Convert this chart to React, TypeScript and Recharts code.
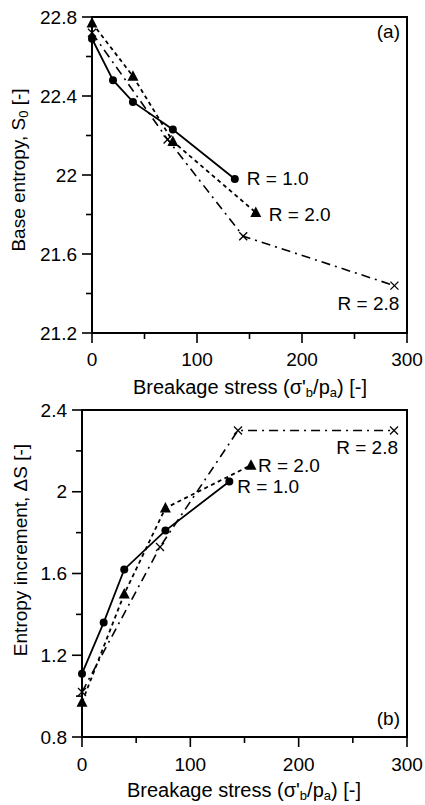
import React from 'react';
import { LineChart, Line, XAxis, YAxis, ReferenceArea, ReferenceDot } from 'recharts';

// ---- data ----
const stressR10 = [0, 20, 39, 77, 136];
const s0R10 = [22.69, 22.48, 22.37, 22.23, 21.98];
const dsR10 = [1.11, 1.36, 1.62, 1.81, 2.05];

const stressR20 = [0, 39, 77, 156];
const s0R20 = [22.77, 22.5, 22.17, 21.81];
const dsR20 = [0.97, 1.5, 1.92, 2.13];

const stressR28 = [0, 72, 144, 288];
const s0R28 = [22.72, 22.18, 21.69, 21.44];
const dsR28 = [1.02, 1.73, 2.3, 2.3];

const xTicks = [0, 50, 100, 150, 200, 250, 300];
const xMajor = [0, 100, 200, 300];
const yTicksA = [21.2, 21.4, 21.6, 21.8, 22, 22.2, 22.4, 22.6, 22.8];
const yMajorA = [21.2, 21.6, 22, 22.4, 22.8];
const yTicksB = [0.8, 1.0, 1.2, 1.4, 1.6, 1.8, 2.0, 2.2, 2.4];
const yMajorB = [0.8, 1.2, 1.6, 2, 2.4];

const seriesNames = ['R = 1.0', 'R = 2.0', 'R = 2.8'];

const zip = (xs: number[], ys: number[]) => xs.map((x, i) => ({ x, y: ys[i] }));

const FONT = '"Liberation Sans", Arial, Helvetica, sans-serif';
const TICK_FS = 19;
const isIn = (arr: number[], v: number) => arr.some((a) => Math.abs(a - v) < 1e-6);

const makeXTick = (labelDy: number) => (p: any) => {
  const { x, y, payload } = p;
  const major = isIn(xMajor, payload.value);
  return (
    <g>
      <line x1={x} y1={y} x2={x} y2={y + (major ? 10 : 6)} stroke="#000" strokeWidth={1.6} />
      {major && (
        <text x={x} y={y + labelDy} textAnchor="middle" dominantBaseline="central" fontFamily={FONT} fontSize={TICK_FS} fill="#000">
          {payload.value}
        </text>
      )}
    </g>
  );
};

const makeYTick = (majors: number[]) => (p: any) => {
  const { x, y, payload } = p;
  const major = isIn(majors, payload.value);
  return (
    <g>
      <line x1={x - (major ? 10 : 6)} y1={y} x2={x} y2={y} stroke="#000" strokeWidth={1.6} />
      {major && (
        <text x={x - 15} y={y} textAnchor="end" dominantBaseline="central" fontFamily={FONT} fontSize={TICK_FS} fill="#000">
          {String(payload.value)}
        </text>
      )}
    </g>
  );
};

const CircleDot = (p: any) => <circle key={`c${p.index}`} cx={p.cx} cy={p.cy} r={4} fill="#000" />;
const TriDot = (p: any) => (
  <polygon
    key={`t${p.index}`}
    points={`${p.cx},${p.cy - 6} ${p.cx - 5.5},${p.cy + 4.5} ${p.cx + 5.5},${p.cy + 4.5}`}
    fill="#000"
  />
);
const CrossDot = (p: any) => (
  <g key={`x${p.index}`}>
    <line x1={p.cx - 4} y1={p.cy - 4} x2={p.cx + 4} y2={p.cy + 4} stroke="#000" strokeWidth={1.3} />
    <line x1={p.cx - 4} y1={p.cy + 4} x2={p.cx + 4} y2={p.cy - 4} stroke="#000" strokeWidth={1.3} />
  </g>
);

const labelShape = (text: string, dx: number, dy: number, anchor: string) => (p: any) => (
  <text
    x={p.cx + dx}
    y={p.cy + dy}
    textAnchor={anchor}
    dominantBaseline="central"
    fontFamily={FONT}
    fontSize={19}
    fill="#000"
  >
    {text}
  </text>
);

const SOLID = { stroke: '#000', strokeWidth: 1.8 };
const DASH = { stroke: '#000', strokeWidth: 1.8, strokeDasharray: '4 3.5' };
const DASHDOT = { stroke: '#000', strokeWidth: 1.6, strokeDasharray: '9 5 2 5' };

export default function App() {
  return (
    <div style={{ position: 'absolute', left: 0, top: 0, width: 425, height: 805, background: '#fff' }}>
      <div style={{ position: 'absolute', left: 0, top: 0 }}>
        <LineChart width={425} height={400} margin={{ top: 17, right: 18, bottom: 66, left: 91 }}>
          <XAxis
            dataKey="x"
            type="number"
            domain={[0, 300]}
            ticks={xTicks}
            interval={0}
            height={1}
            tickSize={0}
            tickMargin={0}
            axisLine={false}
            tickLine={false}
            tick={makeXTick(26)}
          />
          <YAxis
            type="number"
            domain={[21.2, 22.8]}
            ticks={yTicksA}
            interval={0}
            width={1}
            tickSize={0}
            tickMargin={0}
            axisLine={false}
            tickLine={false}
            tick={makeYTick(yMajorA)}
          />
          <ReferenceArea x1={0} x2={300} y1={21.2} y2={22.8} fill="none" stroke="#000" strokeWidth={2} ifOverflow="visible" />
          <Line data={zip(stressR28, s0R28)} dataKey="y" {...DASHDOT} dot={CrossDot} isAnimationActive={false} />
          <Line data={zip(stressR20, s0R20)} dataKey="y" {...DASH} dot={TriDot} isAnimationActive={false} />
          <Line data={zip(stressR10, s0R10)} dataKey="y" {...SOLID} dot={CircleDot} isAnimationActive={false} />
          <ReferenceDot x={stressR10[4]} y={s0R10[4]} r={0} ifOverflow="visible" shape={labelShape(seriesNames[0], 12, 0, 'start')} />
          <ReferenceDot x={stressR20[3]} y={s0R20[3]} r={0} ifOverflow="visible" shape={labelShape(seriesNames[1], 13, 2, 'start')} />
          <ReferenceDot x={stressR28[3]} y={s0R28[3]} r={0} ifOverflow="visible" shape={labelShape(seriesNames[2], 5, 18, 'end')} />
        </LineChart>
      </div>
      <div style={{ position: 'absolute', left: 0, top: 400 }}>
        <LineChart width={425} height={405} margin={{ top: 10, right: 18, bottom: 67, left: 81 }}>
          <XAxis
            dataKey="x"
            type="number"
            domain={[0, 300]}
            ticks={xTicks}
            interval={0}
            height={1}
            tickSize={0}
            tickMargin={0}
            axisLine={false}
            tickLine={false}
            tick={makeXTick(27)}
          />
          <YAxis
            type="number"
            domain={[0.8, 2.4]}
            ticks={yTicksB}
            interval={0}
            width={1}
            tickSize={0}
            tickMargin={0}
            axisLine={false}
            tickLine={false}
            tick={makeYTick(yMajorB)}
          />
          <ReferenceArea x1={0} x2={300} y1={0.8} y2={2.4} fill="none" stroke="#000" strokeWidth={2} ifOverflow="visible" />
          <Line data={zip(stressR28, dsR28)} dataKey="y" {...DASHDOT} dot={CrossDot} isAnimationActive={false} />
          <Line data={zip(stressR20, dsR20)} dataKey="y" {...DASH} dot={TriDot} isAnimationActive={false} />
          <Line data={zip(stressR10, dsR10)} dataKey="y" {...SOLID} dot={CircleDot} isAnimationActive={false} />
          <ReferenceDot x={stressR10[4]} y={dsR10[4]} r={0} ifOverflow="visible" shape={labelShape(seriesNames[0], 8, 5, 'start')} />
          <ReferenceDot x={stressR20[3]} y={dsR20[3]} r={0} ifOverflow="visible" shape={labelShape(seriesNames[1], 7, 0, 'start')} />
          <ReferenceDot x={stressR28[3]} y={dsR28[3]} r={0} ifOverflow="visible" shape={labelShape(seriesNames[2], 4, 17, 'end')} />
        </LineChart>
      </div>
      <svg width={425} height={805} style={{ position: 'absolute', left: 0, top: 0, pointerEvents: 'none' }}>
        <g fontFamily={FONT} fill="#000">
          <text x={400} y={31} textAnchor="end" dominantBaseline="central" fontSize={19}>(a)</text>
          <text x={400} y={718} textAnchor="end" dominantBaseline="central" fontSize={19}>(b)</text>
          <text x={250} y={387} textAnchor="middle" dominantBaseline="central" fontSize={20}>
            <tspan>Breakage stress (σ'</tspan>
            <tspan fontSize={13} dy={5}>b</tspan>
            <tspan dy={-5}>/p</tspan>
            <tspan fontSize={13} dy={5}>a</tspan>
            <tspan dy={-5}>) [-]</tspan>
          </text>
          <text x={244} y={790} textAnchor="middle" dominantBaseline="central" fontSize={20}>
            <tspan>Breakage stress (σ'</tspan>
            <tspan fontSize={13} dy={5}>b</tspan>
            <tspan dy={-5}>/p</tspan>
            <tspan fontSize={13} dy={5}>a</tspan>
            <tspan dy={-5}>) [-]</tspan>
          </text>
          <text x={18} y={170} transform="rotate(-90 18 170)" textAnchor="middle" dominantBaseline="central" fontSize={19}>
            <tspan>Base entropy, S</tspan>
            <tspan fontSize={13} dy={5}>0</tspan>
            <tspan dy={-5}> [-]</tspan>
          </text>
          <text x={20} y={550} transform="rotate(-90 20 550)" textAnchor="middle" dominantBaseline="central" fontSize={19}>
            Entropy increment, ΔS [-]
          </text>
        </g>
      </svg>
    </div>
  );
}
